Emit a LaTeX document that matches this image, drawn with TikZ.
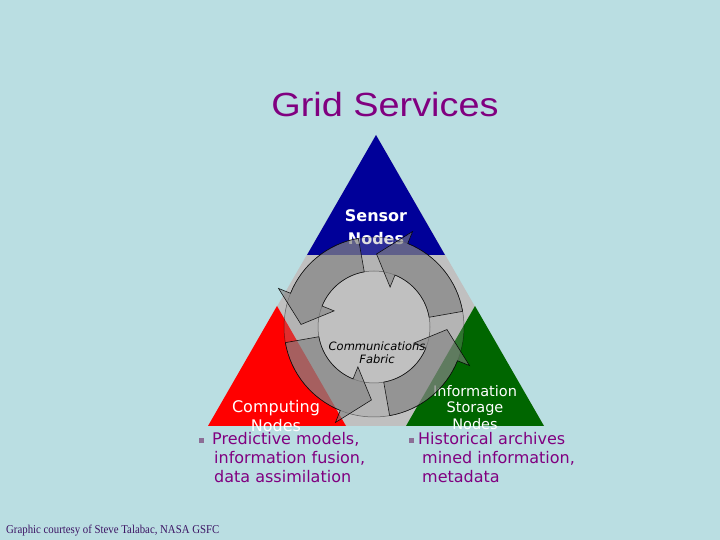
\documentclass[tikz,border=0pt]{standalone}
\usepackage{fontspec}
\setmainfont{DejaVu Sans}
\newfontfamily\titlefont[FakeStretch=1.13]{Liberation Sans}
\newfontfamily\creditfont[FakeStretch=0.9]{Liberation Serif}
\definecolor{bg}{RGB}{186,222,226}
\definecolor{ttl}{RGB}{128,0,128}
\definecolor{sblue}{RGB}{0,0,153}
\definecolor{cred}{RGB}{255,0,0}
\definecolor{igreen}{RGB}{0,102,0}
\definecolor{fabric}{RGB}{192,192,192}
\definecolor{credit}{RGB}{60,20,100}
\definecolor{bullet}{RGB}{140,110,150}
\newcommand{\ringarrow}[3]{%
  \path[arrowfill] (#1:90pt) arc[start angle=#1, end angle=#2, radius=90pt]
    -- (#2:103pt) -- (#3:73pt) -- (#2:43pt) -- (#2:56pt)
    arc[start angle=#2, end angle=#1, radius=56pt] -- cycle;}
\begin{document}
\begin{tikzpicture}[x=1pt,y=1pt,
  lbl/.style={inner sep=0pt, anchor=base},
  whitelbl/.style={lbl, text=white, font=\fontsize{16}{19}\selectfont},
  infolbl/.style={lbl, text=white, font=\fontsize{14.5}{17}\selectfont},
  sensorlbl/.style={lbl, text=white, font=\bfseries\fontsize{16}{19}\selectfont},
  fabriclbl/.style={lbl, text=black, font=\itshape\fontsize{11.5}{13}\selectfont},
  bul/.style={inner sep=0pt, anchor=base west, text=ttl, font=\fontsize{16}{19}\selectfont},
  bulsq/.style={fill=bullet, minimum size=4.5pt, inner sep=0pt},
  arrowfill/.style={fill=gray, fill opacity=0.6, draw=black, draw opacity=0.85, line width=0.6pt},
  ringfill/.style={fill=gray!80, fill opacity=0.3, draw=black, draw opacity=0.5, line width=0.5pt, even odd rule}]
\useasboundingbox (0,0) rectangle (720,540);
\fill[bg] (0,0) rectangle (720,540);
% title
\node[lbl, text=ttl, font=\titlefont\fontsize{33.5}{40}\selectfont] (title) at (385,423) {Grid Services};
% triangles
\fill[fabric] (376,405) -- (208,114) -- (544,114) -- cycle;
\fill[sblue] (376,405) -- (307,285) -- (445,285) -- cycle;
\fill[cred] (277,234) -- (208,114) -- (346,114) -- cycle;
\fill[igreen] (475,234) -- (406,114) -- (544,114) -- cycle;
% corner labels
\node[sensorlbl] (sensor1) at (376,318) {Sensor};
\node[sensorlbl] (sensor2) at (376,295) {Nodes};
\node[whitelbl] (comp1) at (276,127) {Computing};
\node[whitelbl] (comp2) at (276,108) {Nodes};
\node[infolbl] (info1) at (475,143) {Information};
\node[infolbl] (info2) at (475,127) {Storage};
\node[infolbl] (info3) at (475,110) {Nodes};
% ring of arrows
\begin{scope}[shift={(374,213)}]
  \path[ringfill] (0,0) circle[radius=90pt] (0,0) circle[radius=56pt];
  \ringarrow{10}{68}{88}
  \ringarrow{100}{158}{178}
  \ringarrow{190}{248}{268}
  \ringarrow{280}{338}{358}
\end{scope}
\node[fabriclbl] (fab1) at (377,189) {Communications};
\node[fabriclbl] (fab2) at (377,176) {Fabric};
% bullets
\node[bulsq] (sq1) at (201.5,99.5) {};
\node[bul] (l1) at (212,95) {Predictive models,};
\node[bul] (l2) at (214,76) {information fusion,};
\node[bul] (l3) at (214,57) {data assimilation};
\node[bulsq] (sq2) at (411.5,99.5) {};
\node[bul] (r1) at (418,95) {Historical archives};
\node[bul] (r2) at (422,76) {mined information,};
\node[bul] (r3) at (422,57) {metadata};
% credit
\node[inner sep=0pt, anchor=base west, text=credit, font=\creditfont\fontsize{12}{14}\selectfont] (credit) at (6,6) {Graphic courtesy of Steve Talabac, NASA GSFC};
\end{tikzpicture}
\end{document}
